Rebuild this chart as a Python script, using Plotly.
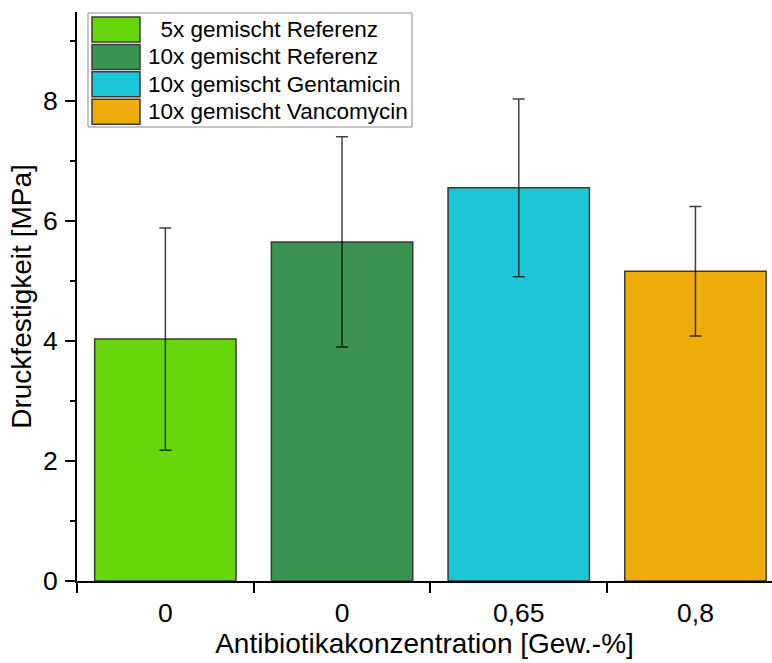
import plotly.graph_objects as go

# Compressive strength of bone-cement batches
groups = ["5x gemischt Referenz", "10x gemischt Referenz",
          "10x gemischt Gentamicin", "10x gemischt Vancomycin"]
concentration_labels = ["0", "0", "0,65", "0,8"]
strength_mpa = [4.03, 5.65, 6.55, 5.16]
strength_sd = [1.85, 1.75, 1.48, 1.08]
bar_colors = ["#66d60a", "#3a9350", "#1cc6d6", "#edac0a"]

FONT = "Arial, Liberation Sans, sans-serif"
W, H = 772, 663
ML, MR, MT, MB = 77, 0, 12, 82

positions = list(range(len(groups)))

fig = go.Figure()
fig.add_trace(go.Bar(
    x=positions,
    y=strength_mpa,
    width=0.8,
    marker=dict(color=bar_colors, line=dict(color="#3a3a3a", width=1.5)),
    error_y=dict(type="data", array=strength_sd, visible=True,
                 color="rgba(0,0,0,0.75)", thickness=1.5, width=6),
    showlegend=False,
))

# pixel -> paper helpers for the boxed legend
pw, ph = W - ML - MR, H - MT - MB
def px_x(v):
    return (v - ML) / pw
def px_y(v):
    return (H - MB - v) / ph

shapes = [dict(type="rect", xref="paper", yref="paper",
               x0=px_x(88), x1=px_x(412), y0=px_y(127), y1=px_y(13),
               line=dict(color="#8c8c8c", width=1), fillcolor="white", layer="above")]
annotations = []
row_top, row_step, sw_h = 17, 27.4, 25
for i, (name, col) in enumerate(zip(groups, bar_colors)):
    y0 = row_top + i * row_step
    shapes.append(dict(type="rect", xref="paper", yref="paper",
                       x0=px_x(92), x1=px_x(140), y0=px_y(y0 + sw_h), y1=px_y(y0),
                       line=dict(color="#3a3a3a", width=1.5), fillcolor=col, layer="above"))
    label = ("\u2007" + name) if name[1] == "x" else name
    annotations.append(dict(xref="paper", yref="paper", x=px_x(146), y=px_y(y0 + sw_h / 2),
                            text=label, showarrow=False, xanchor="left", yanchor="middle",
                            font=dict(family=FONT, size=22.5, color="black")))

fig.update_layout(
    width=W, height=H,
    margin=dict(l=ML, r=MR, t=MT, b=MB),
    paper_bgcolor="white", plot_bgcolor="white",
    font=dict(family=FONT, color="black"),
    shapes=shapes, annotations=annotations,
    xaxis=dict(
        range=[-0.5, -0.5 + pw / 176.7],
        tickmode="array", tickvals=positions, ticktext=concentration_labels,
        ticks="", tickfont=dict(size=26.5), ticklabelstandoff=7,
        minor=dict(tickmode="array", tickvals=[p - 0.5 for p in positions],
                   ticks="outside", ticklen=10, tickwidth=1.5, tickcolor="black"),
        showline=True, linecolor="black", linewidth=2,
        showgrid=False, zeroline=False,
        title=dict(text="Antibiotikakonzentration [Gew.-%]", font=dict(size=28), standoff=7),
    ),
    yaxis=dict(
        range=[0, 9.48], dtick=2, tick0=0,
        ticks="outside", ticklen=10, tickwidth=1.5, tickcolor="black",
        tickfont=dict(size=26.5), ticklabelstandoff=2,
        minor=dict(dtick=1, tick0=0, ticks="outside", ticklen=5, tickwidth=1.5, tickcolor="black"),
        showline=True, linecolor="black", linewidth=2,
        showgrid=False, zeroline=False,
        title=dict(text="Druckfestigkeit [MPa]", font=dict(size=28), standoff=3),
    ),
)

fig.write_html("out.html")
